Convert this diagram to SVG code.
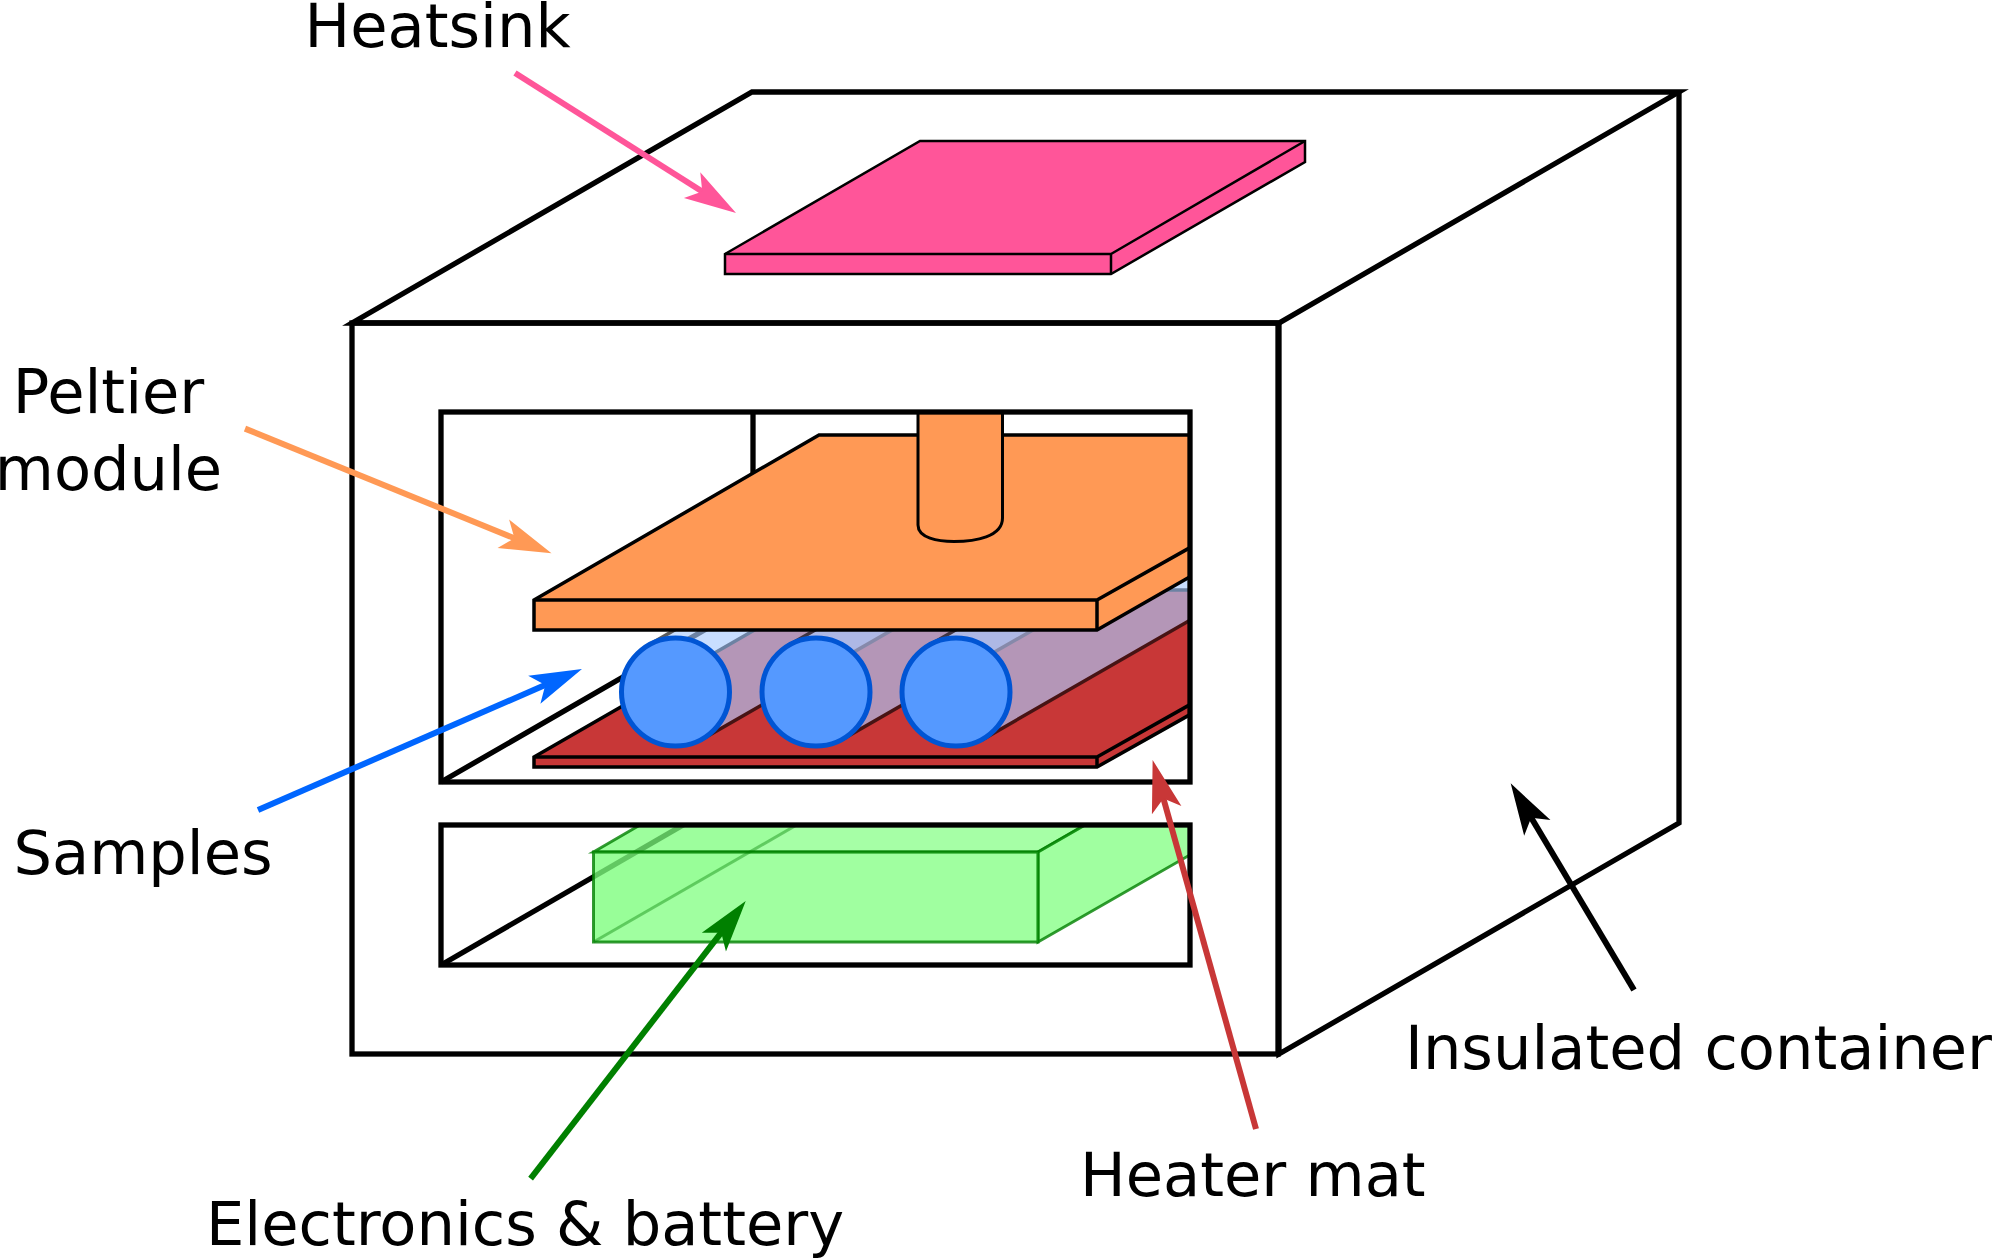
<svg xmlns="http://www.w3.org/2000/svg" width="2000" height="1259" viewBox="0 0 2000 1259">
<style>
text{font-family:"DejaVu Sans",sans-serif;font-size:60.7px;fill:#000}
.box{fill:none;stroke:#000;stroke-width:5.3}
.p{stroke:#000;stroke-linejoin:miter}
.tube{fill:#aaccff;stroke:#000;stroke-width:3.5;opacity:.64}
.circ{fill:#5599ff;stroke:#0055d4;stroke-width:5}
.g{fill:#80ff80;fill-opacity:.75;stroke:#008000;stroke-opacity:.8;stroke-width:3}
.arrow{fill:none;stroke-width:6}
</style>
<defs>
<marker id="mP" markerUnits="userSpaceOnUse" orient="auto" overflow="visible" markerWidth="60" markerHeight="40" refX="0" refY="0"><path d="M34,0L-18,-15.300L-6,0L-18,15.300Z" fill="#ff5599"/></marker>
<marker id="mO" markerUnits="userSpaceOnUse" orient="auto" overflow="visible" markerWidth="60" markerHeight="40" refX="0" refY="0"><path d="M34,0L-18,-15.300L-6,0L-18,15.300Z" fill="#ff9955"/></marker>
<marker id="mB" markerUnits="userSpaceOnUse" orient="auto" overflow="visible" markerWidth="60" markerHeight="40" refX="0" refY="0"><path d="M34,0L-18,-15.300L-6,0L-18,15.300Z" fill="#0066ff"/></marker>
<marker id="mG" markerUnits="userSpaceOnUse" orient="auto" overflow="visible" markerWidth="60" markerHeight="40" refX="0" refY="0"><path d="M34,0L-18,-15.300L-6,0L-18,15.300Z" fill="#008000"/></marker>
<marker id="mR" markerUnits="userSpaceOnUse" orient="auto" overflow="visible" markerWidth="60" markerHeight="40" refX="0" refY="0"><path d="M34,0L-18,-15.300L-6,0L-18,15.300Z" fill="#c83737"/></marker>
<marker id="mK" markerUnits="userSpaceOnUse" orient="auto" overflow="visible" markerWidth="60" markerHeight="40" refX="0" refY="0"><path d="M34,0L-18,-15.300L-6,0L-18,15.300Z" fill="#000"/></marker>
<clipPath id="upper"><rect x="441" y="412" width="749" height="370"/></clipPath>
<clipPath id="tubes"><rect x="441" y="540" width="749" height="242"/></clipPath>
<clipPath id="lower"><rect x="441" y="825" width="749" height="140"/></clipPath>
</defs>

<g id="container">
<path class="box" d="M352,323L752,92L1679,92L1279,323Z"/>
<path class="box" d="M1279,323V1054L1679,823V92"/>
<rect class="box" x="352" y="323" width="926" height="731"/>
</g>

<g id="heatsink">
<path class="p" stroke-width="2.5" fill="#ff5599" d="M725,254L920,141H1305V162L1111,274H725Z"/>
<path fill="none" stroke="#000" stroke-width="2.5" d="M725,254H1111V274M1111,254L1305,141"/>
</g>

<g id="upper-compartment-back">
<path fill="none" stroke="#000" stroke-width="5.300" d="M441,782L753,602V412"/>
</g>

<g id="heater-mat" clip-path="url(#upper)">
<path class="p" stroke-width="3.5" fill="#c83737" d="M534,757L824,590H1200V709L1097,767H534Z"/>
<path fill="none" stroke="#000" stroke-width="3.5" d="M534,757H1097V767M1097,757L1200,699"/>
</g>

<g id="samples">
<g clip-path="url(#tubes)">
<path class="tube" d="M648.500,645L1200,328V453L702.500,739Z"/>
<path class="tube" d="M789,645L1200,409V534L843,739Z"/>
<path class="tube" d="M929.500,645L1200,489V614.500L983.500,739Z"/>
</g>
<circle class="circ" cx="675.500" cy="692" r="54"/>
<circle class="circ" cx="816" cy="692" r="54"/>
<circle class="circ" cx="956" cy="692" r="54"/>
</g>

<g id="peltier" clip-path="url(#upper)">
<path class="p" stroke-width="3.5" fill="#ff9955" d="M534,600L819,435H1200V571L1097,630H534Z"/>
<path fill="none" stroke="#000" stroke-width="3.500" d="M534,600H1097V630M1097,600L1200,542"/>
<path class="p" stroke-width="3" fill="#ff9955" d="M918,405V525C918,538 938,541.500 954,541.500C975,541.500 1002.500,537 1002.500,518V405"/>
</g>

<g id="electronics" clip-path="url(#lower)">
<path fill="none" stroke="#000" stroke-width="5.300" d="M441,965L690,821"/>
<path d="M593.500,852V942L792,828L792,825H640Z" fill="#40e040" fill-opacity=".16"/>
<path class="g" d="M593.500,852L640,825H1085L1038,852Z" style="fill-opacity:.7"/>
<path class="g" d="M1038,852L1085,825H1195V852L1038,942Z"/>
<rect class="g" x="593.500" y="852" width="444.500" height="90"/>
<path fill="none" stroke="#008000" stroke-opacity=".4" stroke-width="3" d="M593.500,942L800,823"/>
</g>

<g id="frames">
<rect class="box" x="441" y="412" width="749" height="370"/>
<rect class="box" x="441" y="825" width="749" height="140"/>
</g>

<g id="connectors">
<path class="arrow" stroke="#ff5599" marker-end="url(#mP)" d="M515,73L707.300,194.800"/>
<path class="arrow" stroke="#ff9955" marker-end="url(#mO)" d="M245,428.600L520,540.500"/>
<path class="arrow" stroke="#0066ff" marker-end="url(#mB)" d="M258,810L550.800,682.600"/>
<path class="arrow" stroke="#008000" marker-end="url(#mG)" d="M530.600,1178.600L724.900,927.900"/>
<path class="arrow" stroke="#c83737" marker-end="url(#mR)" d="M1256,1129L1161.800,792.700"/>
<path class="arrow" stroke="#000" marker-end="url(#mK)" d="M1634,990L1528.100,812.500"/>
</g>

<g id="labels">
<text x="304.500" y="47">Heatsink</text>
<text x="108.500" y="413" text-anchor="middle">Peltier</text>
<text x="108.500" y="490" text-anchor="middle">module</text>
<text x="13.500" y="874">Samples</text>
<text x="206" y="1245">Electronics &amp; battery</text>
<text x="1080" y="1196">Heater mat</text>
<text x="1405" y="1069">Insulated container</text>
</g>
</svg>
